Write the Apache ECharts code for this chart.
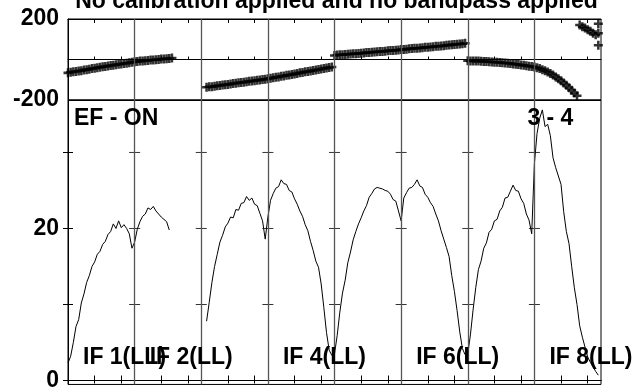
<!DOCTYPE html>
<html><head><meta charset="utf-8">
<script src="https://cdn.jsdelivr.net/npm/echarts@6/dist/echarts.min.js"></script>
<style>html,body{margin:0;padding:0;background:#fff}#c{width:641px;height:392px}</style>
</head><body><div id="c"></div>
<script>
const titleText = 'No calibration applied and no bandpass applied';
const sourceLabel = 'EF - ON';
const baselineLabel = '3 - 4';
const ifNames = ['IF 1(LL)', 'IF 2(LL)', 'IF 4(LL)', 'IF 6(LL)', 'IF 8(LL)'];
const ifNameIndex = [0, 1, 3, 5, 7];
const nChan = 25;
const nIF = 8;
const chanTickOffsets = [10, 20];
const phaseAxisLabels = [-200, 200];
const ampTickValues = [0, 10, 20, 30];
const ampAxisLabels = [0, 20];

// amplitude per IF (channel 0..24), null = no data
const amp1 = [2.3, 3.2, 5.0, 7.1, 8.0, 10.2, 11.4, 12.9, 13.8, 15.0, 15.6, 16.6, 17.0, 17.9, 18.3, 19.2, 19.6, 20.6, 20.0, 21.0, 20.1, 20.5, 20.0, 19.3, 17.4];
const amp2 = [18.2, 19.9, 20.9, 21.6, 21.9, 22.7, 22.5, 22.9, 22.3, 21.9, 21.5, 21.2, 20.9, 19.8, null, null, null, null, null, null, null, null, null, null, null];
const amp3 = [null, null, 7.8, 10.3, 12.9, 15.0, 16.6, 18.2, 19.1, 20.2, 20.7, 21.5, 21.4, 22.5, 22.4, 23.3, 23.4, 24.2, 23.7, 24.0, 23.2, 23.0, 22.0, 21.0, 18.6];
const amp4 = [21.5, 23.7, 24.6, 25.3, 25.5, 26.4, 25.9, 25.8, 25.0, 24.8, 23.9, 23.2, 22.3, 21.6, 20.5, 19.7, 18.3, 17.1, 15.7, 14.9, 12.7, 9.6, 6.3, 4.0, 3.3];
const amp5 = [3.5, 5.9, 9.0, 11.5, 13.2, 15.5, 16.9, 18.5, 19.6, 20.6, 21.4, 22.3, 23.0, 24.1, 24.6, 25.2, 25.4, 25.3, 25.2, 25.0, 24.9, 24.5, 23.8, 23.6, 22.3];
const amp6 = [21.0, 24.0, 24.7, 25.3, 25.4, 25.8, 26.4, 25.6, 25.4, 24.5, 24.1, 23.4, 22.9, 21.9, 21.0, 19.7, 18.6, 17.5, 16.3, 13.8, 11.7, 9.2, 6.4, 4.2, 3.4];
const amp7 = [3.5, 6.0, 9.3, 12.2, 14.6, 15.7, 17.4, 18.1, 19.5, 19.9, 21.0, 21.2, 22.3, 22.8, 24.0, 24.1, 24.9, 25.7, 25.0, 24.9, 23.9, 23.3, 21.9, 21.1, 19.3];
const amp8 = [28.5, 32.5, 34.5, 35.6, 33.4, 33.7, 32.2, 29.3, 28.0, 26.9, 25.8, 22.2, 19.6, 18.0, 15.0, 12.2, 10.0, 7.2, 5.7, 4.4, 3.1, 2.4, 1.8, 1.2, 0.7];

// phase per IF (degrees)
const ph1 = [-66, -63, -61, -59, -57, -55, -52, -50, -48, -45, -43, -41, -38, -36, -34, -32, -30, -28, -26, -24, -22, -20, -18, -16, -13];
const ph2 = [-11, -10, -8, -7, -6, -5, -3, -2, -1, 0, 2, 3, 4, 5, 7, null, null, null, null, null, null, null, null, null, null];
const ph3 = [null, null, -137, -135, -134, -132, -130, -128, -126, -125, -123, -121, -119, -117, -115, -114, -112, -110, -108, -106, -105, -103, -101, -99, -97];
const ph4 = [-95, -93, -90, -88, -86, -83, -81, -78, -76, -74, -71, -69, -66, -64, -61, -59, -57, -54, -52, -49, -47, -45, -42, -40, -37];
const ph5 = [20, 22, 23, 24, 25, 26, 27, 28, 29, 30, 31, 32, 34, 35, 36, 37, 38, 39, 40, 41, 43, 44, 45, 46, 47];
const ph6 = [49, 50, 51, 53, 54, 55, 56, 57, 58, 60, 61, 62, 63, 65, 66, 67, 68, 70, 71, 73, 74, 75, 77, 78, 80];
const ph7 = [-6, -7, -7, -8, -8, -9, -10, -10, -11, -12, -13, -14, -15, -16, -17, -19, -20, -22, -23, -25, -27, -29, -31, -33, -35];
const ph8 = [-37, -41, -45, -50, -55, -62, -69, -77, -86, -95, -105, -116, -127, -139, -152, -166, -179, 170, 162, 155, 147, 139, 130, 122, null];
const ph8LastChanValues = [176, 130, 70];

const amps = [amp1, amp2, amp3, amp4, amp5, amp6, amp7, amp8];
const phases = [ph1, ph2, ph3, ph4, ph5, ph6, ph7, ph8];

const FONT = '"Liberation Sans", Arial, Helvetica, sans-serif';
const ampData = [];
const phData = [];
amps.forEach((arr, k) => arr.forEach((v, c) => ampData.push([k * nChan + c, v == null ? '-' : v])));
phases.forEach((arr, k) => arr.forEach((v, c) => { if (v != null) phData.push([k * nChan + c, v]); }));
ph8LastChanValues.forEach(v => phData.push([7 * nChan + nChan - 1, v]));

const chanTicks = [];
for (let k = 0; k < nIF; k++) chanTickOffsets.forEach(o => chanTicks.push(k * nChan + o));
const crossData = [];
for (let k = 1; k < nIF; k++) ampTickValues.forEach(v => crossData.push([k * nChan, v]));
const ifBounds = [];
for (let k = 1; k < nIF; k++) ifBounds.push({ xAxis: k * nChan });

const xMax = nIF * nChan;
const lineCol = '#000';
const sepCol = '#555';
function xAx(grid, pos, tickLen) {
  return {
    type: 'value', gridIndex: grid, position: pos, min: 0, max: xMax,
    axisLine: { show: true, lineStyle: { color: lineCol, width: 1 } },
    axisTick: { show: true, inside: true, length: tickLen, customValues: chanTicks, lineStyle: { color: lineCol } },
    axisLabel: { show: false },
    splitLine: { show: false }
  };
}
const labelStyle = { color: '#000', fontFamily: FONT, fontWeight: 'bold', fontSize: 23, margin: 9 };
const boundLines = {
  silent: true, symbol: 'none', label: { show: false },
  lineStyle: { color: sepCol, width: 1.3, type: 'solid' }, data: ifBounds
};

const chart = echarts.init(document.getElementById('c'), null, { renderer: 'canvas' });
chart.setOption({
  animation: false,
  backgroundColor: '#fff',
  grid: [
    { left: 68, top: 19, width: 533, height: 81, show: true, borderColor: '#000', borderWidth: 1, backgroundColor: 'transparent' },
    { left: 68, top: 100, width: 533, height: 287, show: true, borderColor: '#000', borderWidth: 1, backgroundColor: 'transparent' }
  ],
  xAxis: [
    xAx(0, 'bottom', 3),
    xAx(0, 'top', 4),
    xAx(1, 'top', 3),
    xAx(1, 'bottom', 5)
  ],
  yAxis: [
    { type: 'value', gridIndex: 0, position: 'left', min: -200, max: 200, interval: 200,
      axisLine: { show: true, lineStyle: { color: lineCol } }, axisTick: { show: false },
      axisLabel: Object.assign({ customValues: phaseAxisLabels }, labelStyle),
      splitLine: { show: true, lineStyle: { color: lineCol, width: 1 } } },
    { type: 'value', gridIndex: 1, position: 'left', min: -0.52, max: 36.9,
      axisLine: { show: true, lineStyle: { color: lineCol } },
      axisTick: { show: true, inside: true, length: 5, customValues: ampTickValues, lineStyle: { color: lineCol } },
      axisLabel: Object.assign({ customValues: ampAxisLabels }, labelStyle),
      splitLine: { show: false } },
    { type: 'value', gridIndex: 1, position: 'right', min: -0.52, max: 36.9,
      axisLine: { show: true, lineStyle: { color: lineCol } },
      axisTick: { show: true, inside: true, length: 5, customValues: ampTickValues, lineStyle: { color: lineCol } },
      axisLabel: { show: false }, splitLine: { show: false } }
  ],
  series: [
    { type: 'scatter', xAxisIndex: 0, yAxisIndex: 0, data: phData,
      symbol: 'path://M3.6,0H6.4V3.6H10V6.4H6.4V10H3.6V6.4H0V3.6H3.6Z', symbolSize: 9,
      itemStyle: { color: '#000' }, clip: true, markLine: boundLines, z: 3 },
    { type: 'line', xAxisIndex: 3, yAxisIndex: 1, data: ampData, showSymbol: false, connectNulls: false,
      lineStyle: { color: '#000', width: 1 }, clip: true, markLine: boundLines, z: 3 },
    { type: 'scatter', xAxisIndex: 3, yAxisIndex: 1, data: crossData, symbol: 'rect', symbolSize: [11, 1],
      itemStyle: { color: '#000' }, silent: true, z: 4 }
  ]
});

const txt = (text, x, y, align) => ({
  type: 'text', silent: true, z: 100,
  style: { text, x, y, font: 'bold 23px ' + FONT, fill: '#000',
    align: align || 'left', verticalAlign: 'middle', textAlign: align || 'left', textVerticalAlign: 'middle' }
});
const g = [];
const x0 = chart.convertToPixel({ xAxisIndex: 3 }, 0);
const x1 = chart.convertToPixel({ xAxisIndex: 3 }, xMax);
g.push(txt(titleText, (x0 + x1) / 2 + 2, 2, 'center'));
g.push(txt(sourceLabel, x0 + 6, 119));
g.push(txt(baselineLabel, chart.convertToPixel({ xAxisIndex: 3 }, 7 * nChan) - 7, 119));
ifNames.forEach((n, i) => {
  g.push(txt(n, chart.convertToPixel({ xAxisIndex: 3 }, ifNameIndex[i] * nChan) + 15, 358));
});
chart.setOption({ graphic: g });
</script></body></html>
